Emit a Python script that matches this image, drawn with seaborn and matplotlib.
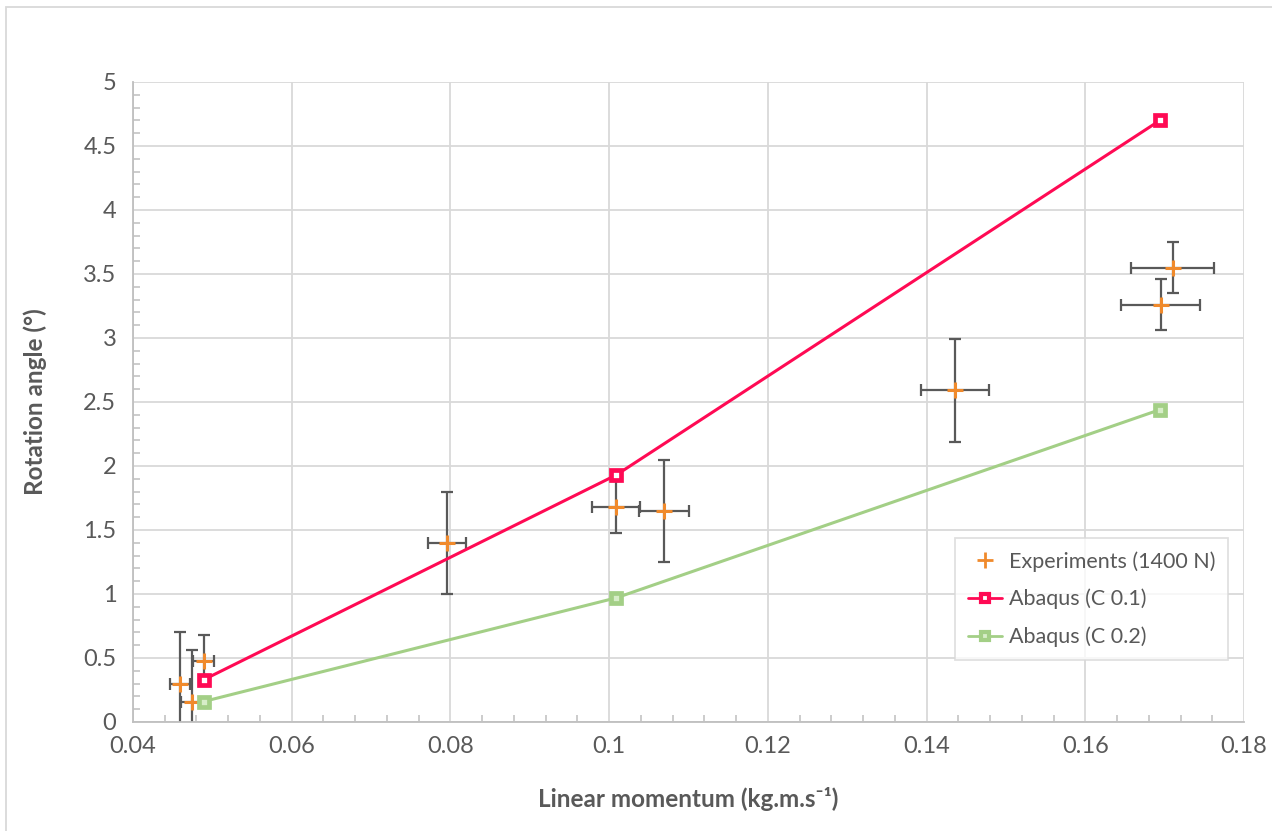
import numpy as np
import pandas as pd
import matplotlib
matplotlib.use("Agg")
import matplotlib.pyplot as plt
import seaborn as sns
from matplotlib.lines import Line2D
from matplotlib.patches import Rectangle
from matplotlib.ticker import MultipleLocator, FuncFormatter

# ---- data ----
exp_x = [0.0459, 0.0474, 0.0489, 0.0796, 0.1009, 0.1069, 0.1436, 0.1710, 0.1695]
exp_y = [0.30, 0.16, 0.48, 1.40, 1.68, 1.65, 2.59, 3.55, 3.26]
exp_xerr = [0.0013, 0.0013, 0.0013, 0.0024, 0.0030, 0.0032, 0.0043, 0.0052, 0.0050]
exp_yerr = [0.4, 0.4, 0.2, 0.4, 0.2, 0.4, 0.4, 0.2, 0.2]

abq_x = [0.0489, 0.1009, 0.1694]
abq_c01 = [0.33, 1.93, 4.70]
abq_c02 = [0.16, 0.97, 2.44]

labels = ["Experiments (1400 N)", "Abaqus (C 0.1)", "Abaqus (C 0.2)"]
x_ticks = [0.04, 0.06, 0.08, 0.10, 0.12, 0.14, 0.16, 0.18]
y_ticks = [0, 0.5, 1, 1.5, 2, 2.5, 3, 3.5, 4, 4.5, 5]

RED = "#FF0A54"
GREEN = "#A3CF86"
GREEN_FILL = "#D7EDC8"
ORANGE = "#F08A2C"
GREY_TXT = "#595959"
GRID = "#D9D9D9"
AXIS = "#BFBFBF"

sns.set_theme(style="whitegrid")
plt.rcParams['font.family'] = ['Lato', 'DejaVu Sans']
plt.rcParams['mathtext.fontset'] = 'custom'
plt.rcParams['mathtext.rm'] = 'Lato'
plt.rcParams['mathtext.bf'] = 'Lato:bold'

fig = plt.figure(figsize=(12.72, 8.31), dpi=100)
L, R, T, B = 133, 1244, 82, 722
ax = fig.add_axes([L/1272, 1-B/831, (R-L)/1272, (B-T)/831])

df = pd.DataFrame({"x": abq_x * 2,
                   "y": abq_c01 + abq_c02,
                   "s": [labels[1]] * 3 + [labels[2]] * 3})

# experiments with error bars
ax.errorbar(exp_x, exp_y, xerr=exp_xerr, yerr=exp_yerr, fmt='none',
            ecolor=GREY_TXT, elinewidth=1.6, capsize=4, capthick=1.6, zorder=2)
sns.scatterplot(x=exp_x, y=exp_y, marker='+', s=140, color=ORANGE,
                linewidth=2.2, ax=ax, zorder=3, legend=False)

sns.lineplot(data=df, x="x", y="y", hue="s", palette=[RED, GREEN], ax=ax,
             linewidth=2.2, marker='s', markersize=7, markeredgewidth=3.4,
             legend=False, zorder=4, sort=False)
for line, c, fc in zip(ax.get_lines()[-2:], [RED, GREEN], ['white', GREEN_FILL]):
    line.set_markeredgecolor(c)
    line.set_markerfacecolor(fc)

ax.set_xlim(0.04, 0.18)
ax.set_ylim(0, 5)
ax.set_xticks(x_ticks)
ax.set_yticks(y_ticks)
fmt = FuncFormatter(lambda v, p: f"{v:g}")
ax.xaxis.set_major_formatter(fmt)
ax.yaxis.set_major_formatter(fmt)
ax.xaxis.set_minor_locator(MultipleLocator(0.004))
ax.yaxis.set_minor_locator(MultipleLocator(0.1))

ax.grid(True, which='major', color=GRID, linewidth=1.3)
ax.grid(False, which='minor')
for s in ['top', 'right']:
    ax.spines[s].set_visible(False)
for s in ['bottom', 'left']:
    ax.spines[s].set_color(AXIS)
    ax.spines[s].set_linewidth(1.3)
ax.set_facecolor('white')

ax.tick_params(axis='both', which='major', labelsize=17, colors=GREY_TXT, length=0)
ax.tick_params(axis='y', pad=12)
ax.tick_params(axis='x', pad=10)
ax.tick_params(axis='x', which='minor', direction='in', length=5, width=1.1,
               color=AXIS, bottom=True)
ax.tick_params(axis='y', which='minor', direction='in', length=5, width=1.1,
               color=AXIS, left=True)

ax.set_xlabel("Linear momentum (kg.m.s\u207b\u00b9)", fontsize=17.5,
              fontweight='bold', color=GREY_TXT, labelpad=22)
ax.set_ylabel("Rotation angle (°)", fontsize=17.5, fontweight='bold',
              color=GREY_TXT, labelpad=26)

handles = [
    Line2D([], [], linestyle='none', marker='+', color=ORANGE, markersize=12,
           markeredgewidth=2),
    Line2D([], [], color=RED, linewidth=2, marker='s', markersize=6,
           markeredgewidth=3, markeredgecolor=RED, markerfacecolor='white'),
    Line2D([], [], color=GREEN, linewidth=2, marker='s', markersize=6,
           markeredgewidth=3, markeredgecolor=GREEN, markerfacecolor=GREEN_FILL),
]
leg = ax.legend(handles, labels, loc='upper left',
                bbox_to_anchor=((955-L)/(R-L), 1-(538-T)/(B-T)),
                frameon=True, fancybox=False, fontsize=15.5, handlelength=1.6,
                handletextpad=0.3, borderpad=0.6, labelspacing=0.8,
                borderaxespad=0)
leg.get_frame().set_edgecolor(GRID)
leg.get_frame().set_linewidth(1.3)
for t in leg.get_texts():
    t.set_color(GREY_TXT)

fig.patches.append(Rectangle((6/1272, -0.01), 1.1, 1 - 7/831 + 0.01,
                             transform=fig.transFigure, fill=False,
                             edgecolor=GRID, linewidth=1.3))

fig.savefig("out.png", dpi=100, facecolor='white')
